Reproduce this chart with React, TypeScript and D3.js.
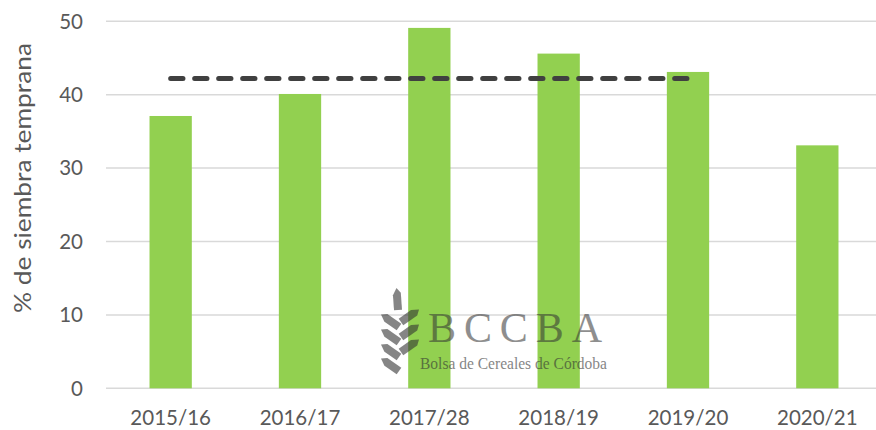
import React from "react";
import * as d3 from "d3";

const categories = ["2015/16", "2016/17", "2017/28", "2018/19", "2019/20", "2020/21"];
const values = [37.1, 40.1, 49.1, 45.6, 43.1, 33.1];
const avgValue = 42.2;
const avgFrom = "2015/16";
const avgTo = "2019/20";
const yTicks = [0, 10, 20, 30, 40, 50];

const W = 876;
const H = 430;
const left = 106;
const right = 882;
const top = 21.3;
const bottom = 388.3;

const FONT = "Lato, 'Open Sans', sans-serif";
const TXT = "#595959";

function Leaf({ x, y, angle, len = 22 }: { x: number; y: number; angle: number; len?: number }) {
  const d = `M-4,0 L-4,${-len + 7} L0,${-len} L4,${-len + 5} L4,0 Z`;
  return <path d={d} transform={`translate(${x},${y}) rotate(${angle})`} fill="#333" opacity={0.6} />;
}

export default function App() {
  const x = d3.scaleBand<string>().domain(categories).range([left, right]).paddingInner(0.673).paddingOuter(0.3365);
  const y = d3.scaleLinear().domain([0, 50]).range([bottom, top]);
  const bw = x.bandwidth();
  const cx = (c: string) => (x(c) as number) + bw / 2;

  const avgLine = d3.line<[number, number]>()([
    [cx(avgFrom), y(avgValue)],
    [cx(avgTo), y(avgValue)],
  ]);

  return (
    <svg width={W} height={H} style={{ position: "absolute", left: 0, top: 0, background: "#fff" }}>
      {yTicks.map((t) => (
        <line key={t} x1={left} x2={W} y1={y(t)} y2={y(t)} stroke="#d9d9d9" strokeWidth={1.5} />
      ))}
      {categories.map((c, i) => (
        <rect key={c} x={x(c)} y={y(values[i])} width={bw} height={y(0) - y(values[i])} fill="#92D050" />
      ))}
      <g>
        <Leaf x={398} y={310} angle={-4} len={22} />
        <Leaf x={399} y={327} angle={-55} />
        <Leaf x={399} y={342} angle={-55} />
        <Leaf x={399} y={357} angle={-55} />
        <Leaf x={399} y={371} angle={-55} />
        <Leaf x={401} y={322} angle={55} />
        <Leaf x={401} y={337} angle={55} />
        <Leaf x={401} y={352} angle={55} />
        <text x={428} y={342} fontFamily="'Liberation Serif', 'DejaVu Serif', serif" fontSize={42} fill="#333" opacity={0.55} textLength={174} lengthAdjust="spacing">BCCBA</text>
        <text x={420} y={369} fontFamily="'Liberation Serif', 'DejaVu Serif', serif" fontSize={16} fill="#333" opacity={0.6} textLength={187} lengthAdjust="spacingAndGlyphs">Bolsa de Cereales de Córdoba</text>
      </g>
      <path d={avgLine ?? ""} stroke="#404040" strokeWidth={5} strokeDasharray="12.3,11.7" strokeLinecap="round" fill="none" />
      {yTicks.map((t) => (
        <text key={t} x={83} y={y(t)} dy="0.36em" textAnchor="end" fontFamily={FONT} fontSize={20.5} fill={TXT}>{t}</text>
      ))}
      {categories.map((c) => (
        <text key={c} x={cx(c)} y={425} textAnchor="middle" fontFamily={FONT} fontSize={20.5} fill={TXT}>{c}</text>
      ))}
      <text transform={`translate(31,178) rotate(-90)`} textAnchor="middle" fontFamily={FONT} fontSize={23} fill={TXT} textLength={270} lengthAdjust="spacingAndGlyphs">% de siembra temprana</text>
    </svg>
  );
}
